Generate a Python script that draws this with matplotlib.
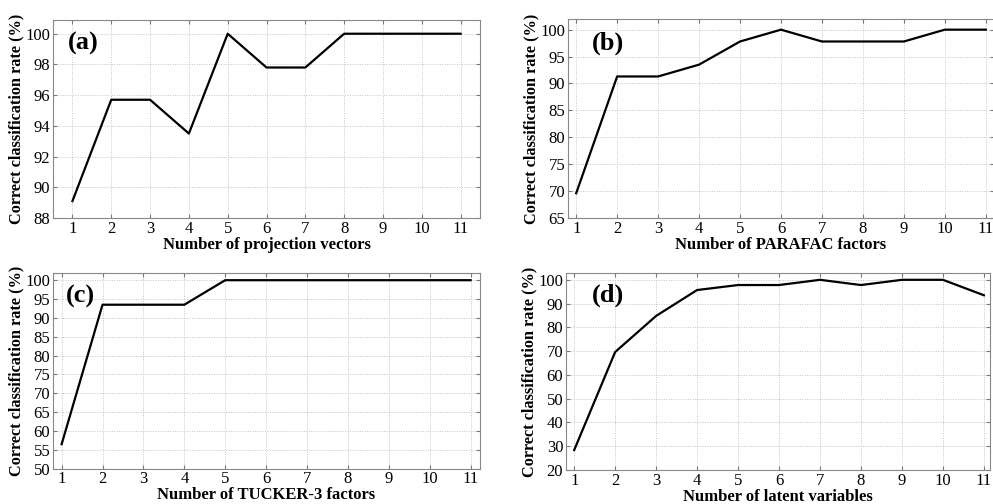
import matplotlib
matplotlib.use("Agg")
import matplotlib.pyplot as plt

plt.rcParams["font.family"] = ["Liberation Serif", "DejaVu Serif"]

x = list(range(1, 12))

rate_a = [89.1, 95.7, 95.7, 93.5, 100, 97.8, 97.8, 100, 100, 100, 100]
rate_b = [69.6, 91.3, 91.3, 93.5, 97.8, 100, 97.8, 97.8, 97.8, 100, 100]
rate_c = [56.5, 93.5, 93.5, 93.5, 100, 100, 100, 100, 100, 100, 100]
rate_d = [28.3, 69.6, 84.8, 95.7, 97.8, 97.8, 100, 97.8, 100, 100, 93.5]

xlabels = [
    "Number of projection vectors",
    "Number of PARAFAC factors",
    "Number of TUCKER-3 factors",
    "Number of latent variables",
]
tags = ["(a)", "(b)", "(c)", "(d)"]
yticks_list = [
    list(range(88, 101, 2)),
    list(range(65, 101, 5)),
    list(range(50, 101, 5)),
    list(range(20, 101, 10)),
]
ylims = [(88, 100.9), (65, 102), (50, 102), (20, 102.8)]
xlims = [(0.5, 11.5), (0.8, 11.2), (0.79, 11.23), (0.8, 11.15)]

# axes boxes in figure fractions
boxes = [
    [0.0534, 0.5675, 0.430, 0.393],
    [0.572, 0.5675, 0.429, 0.395],
    [0.0534, 0.07, 0.430, 0.389],
    [0.570, 0.068, 0.427, 0.39],
]
tag_pos = [(0.035, 0.88), (0.055, 0.88), (0.03, 0.88), (0.06, 0.885)]

fig = plt.figure(figsize=(9.93, 5.04), dpi=100)

for i, rates in enumerate([rate_a, rate_b, rate_c, rate_d]):
    ax = fig.add_axes(boxes[i])
    ax.plot(x, rates, color="black", lw=1.6)
    ax.set_xlim(*xlims[i])
    ax.set_ylim(*ylims[i])
    ax.set_xticks(x)
    ax.set_yticks(yticks_list[i])
    ax.grid(True, color="#c4c4c4", linestyle=(0, (1, 1.5)), lw=0.7)
    ax.tick_params(direction="in", top=True, right=True, length=3,
                   color="#777777", labelsize=12, pad=2)
    for sp in ax.spines.values():
        sp.set_color("#888888")
        sp.set_linewidth(0.8)
    ax.set_xlabel(xlabels[i], fontsize=12, fontweight="bold", labelpad=0)
    ax.set_ylabel("Correct classification rate (%)", fontsize=11.7,
                  fontweight="bold", labelpad=1)
    ax.text(tag_pos[i][0], tag_pos[i][1], tags[i], transform=ax.transAxes,
            fontsize=19, fontweight="bold", va="center", ha="left")

fig.savefig("out.png", dpi=100)
